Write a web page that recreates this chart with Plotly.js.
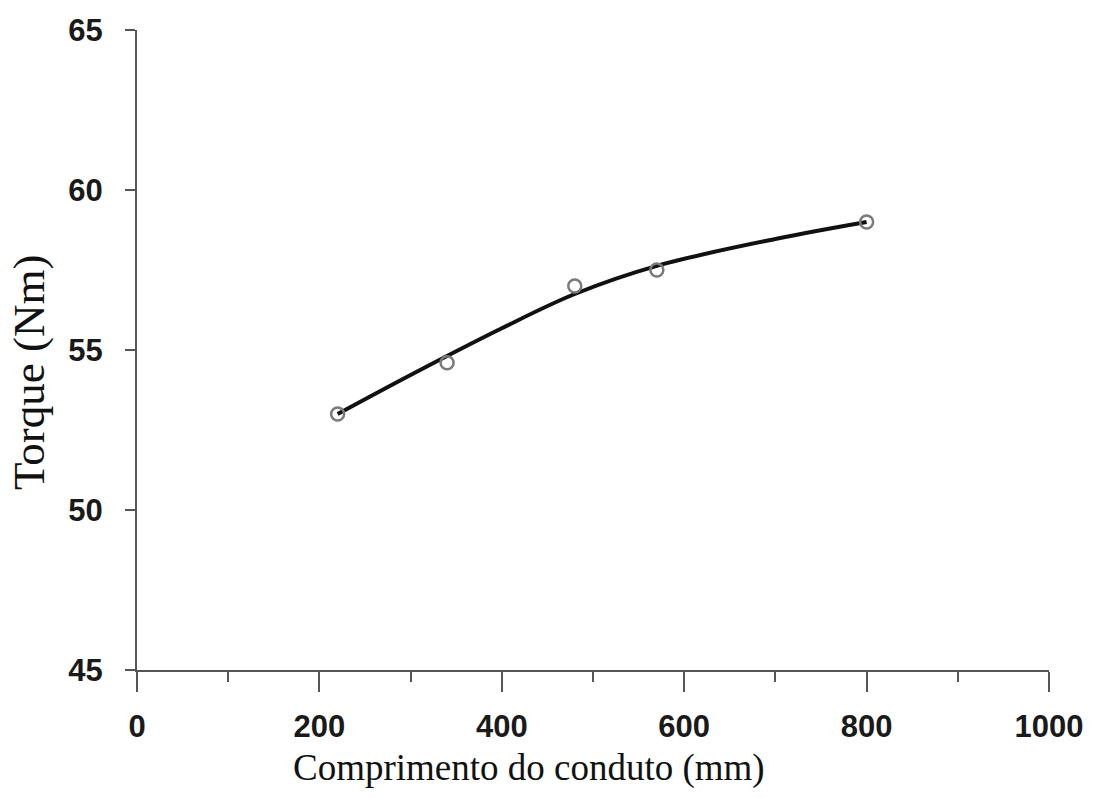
<!DOCTYPE html>
<html>
<head>
<meta charset="utf-8">
<script src="https://cdn.plot.ly/plotly-3.0.1.min.js"></script>
<style>html,body{margin:0;padding:0;background:#fff;}#chart{width:1098px;height:798px;}</style>
</head>
<body>
<div id="chart"></div>
<script>
// Measured points
const lengthMm = [220, 340, 480, 570, 800];
const torqueNm = [53.0, 54.6, 57.0, 57.5, 59.0];
// Fitted curve
const curveX = [220, 300, 400, 480, 570, 700, 800];
const curveY = [53.0, 54.22, 55.68, 56.75, 57.63, 58.47, 59.0];
const xTickVals = [0, 200, 400, 600, 800, 1000];
const yTickVals = [45, 50, 55, 60, 65];
const xTitle = "Comprimento do conduto (mm)";
const yTitle = "Torque (Nm)";

const traces = [
  {x: curveX, y: curveY, type: 'scatter', mode: 'lines',
   line: {color: '#111', width: 4, shape: 'spline', smoothing: 1.0}, hoverinfo: 'skip'},
  {x: lengthMm, y: torqueNm, type: 'scatter', mode: 'markers',
   marker: {symbol: 'circle-open', size: 13, color: '#7a7a7a', line: {width: 2.5, color: '#7a7a7a'}}}
];

const tickFont = {family: 'Liberation Sans, Arial, sans-serif', size: 31, color: '#1a1a1a', weight: 'bold'};

const layout = {
  width: 1098, height: 798,
  paper_bgcolor: '#fff', plot_bgcolor: '#fff',
  showlegend: false,
  margin: {l: 137, r: 49, t: 30, b: 128},
  xaxis: {
    range: [0, 1000], tickvals: xTickVals, ticktext: xTickVals.map(String),
    showgrid: false, zeroline: false, showline: true, linecolor: '#555', linewidth: 2,
    ticks: 'outside', ticklen: 20, tickwidth: 2, tickcolor: '#555',
    minor: {dtick: 100, tick0: 0, ticks: 'outside', ticklen: 10, tickwidth: 2, tickcolor: '#555', showgrid: false},
    tickfont: tickFont, ticklabelstandoff: 8
  },
  yaxis: {
    range: [45, 65], tickvals: yTickVals, ticktext: yTickVals.map(String),
    showgrid: false, zeroline: false, showline: true, linecolor: '#555', linewidth: 2,
    ticks: 'outside', ticklen: 10, tickwidth: 2, tickcolor: '#555',
    tickfont: tickFont, ticklabelstandoff: 16
  },
  annotations: [
    {text: xTitle, xref: 'paper', yref: 'paper', x: (529 - 137) / 912, y: -(768 - 670) / 640,
     xanchor: 'center', yanchor: 'middle', showarrow: false,
     font: {family: 'Liberation Serif, Times New Roman, serif', size: 37, color: '#111'}},
    {text: yTitle, xref: 'paper', yref: 'paper', x: -(137 - 29) / 912, y: (670 - 372) / 640,
     xanchor: 'center', yanchor: 'middle', showarrow: false, textangle: -90,
     font: {family: 'Liberation Serif, Times New Roman, serif', size: 45, color: '#111'}}
  ]
};

Plotly.newPlot('chart', traces, layout, {displayModeBar: false, staticPlot: true});
</script>
</body>
</html>
